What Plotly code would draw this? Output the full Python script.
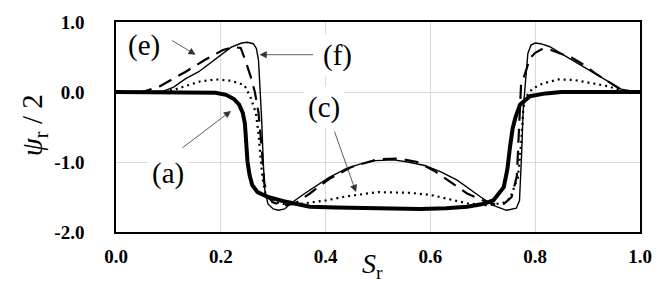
import plotly.graph_objects as go

# ---- data ----
xa = [0, 0.05, 0.10, 0.15, 0.19, 0.21, 0.225, 0.235, 0.242, 0.246, 0.249, 0.251, 0.255, 0.26, 0.27, 0.29, 0.32, 0.37, 0.42, 0.50, 0.58, 0.63, 0.67, 0.70, 0.72, 0.74, 0.747, 0.752, 0.757, 0.762, 0.771, 0.79, 0.82, 0.85, 0.90, 1.0]
ya = [0, 0, 0, 0, -0.01, -0.04, -0.10, -0.18, -0.30, -0.45, -0.75, -1.00, -1.19, -1.33, -1.43, -1.50, -1.56, -1.64, -1.65, -1.66, -1.67, -1.66, -1.64, -1.60, -1.55, -1.36, -1.10, -0.78, -0.52, -0.37, -0.18, -0.06, -0.02, 0, 0, 0]

xc = [0, 0.08, 0.11, 0.13, 0.16, 0.19, 0.22, 0.245, 0.257, 0.267, 0.272, 0.276, 0.28, 0.285, 0.295, 0.32, 0.35, 0.40, 0.44, 0.50, 0.56, 0.60, 0.63, 0.67, 0.71, 0.74, 0.752, 0.767, 0.773, 0.777, 0.78, 0.787, 0.795, 0.814, 0.845, 0.876, 0.908, 0.94, 0.964, 1.0]
yc = [0, 0, 0.03, 0.08, 0.15, 0.18, 0.16, 0.10, -0.08, -0.30, -0.60, -0.95, -1.25, -1.45, -1.56, -1.60, -1.60, -1.55, -1.49, -1.43, -1.44, -1.47, -1.52, -1.59, -1.62, -1.58, -1.52, -1.22, -0.75, -0.27, -0.09, -0.02, 0.05, 0.12, 0.18, 0.17, 0.12, 0.08, 0.02, 0]

xe = [0, 0.05, 0.083, 0.133, 0.17, 0.204, 0.225, 0.238, 0.247, 0.257, 0.265, 0.272, 0.278, 0.283, 0.29, 0.30, 0.32, 0.34, 0.37, 0.407, 0.45, 0.50, 0.54, 0.575, 0.606, 0.644, 0.67, 0.70, 0.72, 0.74, 0.755, 0.765, 0.773, 0.78, 0.79, 0.80, 0.815, 0.83, 0.85, 0.87, 0.89, 0.914, 0.935, 0.96, 0.98, 1.0]
ye = [0, 0, 0.08, 0.29, 0.46, 0.60, 0.64, 0.63, 0.45, 0.22, 0.0, -0.30, -0.80, -1.30, -1.50, -1.58, -1.62, -1.60, -1.45, -1.24, -1.07, -0.96, -0.95, -1.00, -1.12, -1.31, -1.45, -1.55, -1.60, -1.60, -1.50, -1.20, 0.10, 0.25, 0.48, 0.56, 0.62, 0.60, 0.55, 0.49, 0.40, 0.27, 0.17, 0.05, 0.01, 0]

xf = [0, 0.06, 0.09, 0.11, 0.133, 0.158, 0.182, 0.2, 0.22, 0.24, 0.251, 0.262, 0.268, 0.272, 0.275, 0.278, 0.281, 0.284, 0.29, 0.30, 0.31, 0.322, 0.332, 0.36, 0.407, 0.44, 0.47, 0.495, 0.53, 0.557, 0.589, 0.62, 0.651, 0.68, 0.696, 0.72, 0.745, 0.764, 0.770, 0.774, 0.777, 0.781, 0.786, 0.792, 0.80, 0.81, 0.827, 0.865, 0.908, 0.94, 0.964, 0.985, 1.0]
yf = [0, 0, 0.01, 0.07, 0.19, 0.29, 0.43, 0.53, 0.64, 0.70, 0.71, 0.69, 0.62, 0.45, 0.10, -0.40, -1.00, -1.40, -1.60, -1.67, -1.69, -1.67, -1.60, -1.45, -1.22, -1.09, -1.02, -0.98, -0.97, -1.00, -1.05, -1.14, -1.26, -1.42, -1.50, -1.62, -1.69, -1.66, -1.55, -0.90, -0.27, 0.10, 0.55, 0.67, 0.70, 0.69, 0.65, 0.48, 0.29, 0.15, 0.04, 0.01, 0]

xticks = [0, 0.2, 0.4, 0.6, 0.8, 1.0]
xticktext = ["0.0", "0.2", "0.4", "0.6", "0.8", "1.0"]
yticks = [1, 0, -1, -2]
yticktext = ["1.0", "0.0", "-1.0", "-2.0"]

# labels, their positions and arrow tips
labels = ["(e)", "(f)", "(c)", "(a)"]
label_x = [0.054, 0.422, 0.396, 0.099]
label_y = [0.66, 0.52, -0.22, -1.16]
tip_x = [0.152, 0.274, 0.458, 0.2195]
tip_y = [0.533, 0.533, -1.43, -0.27]
tail_ax = [-25, 55, -22, -50]
tail_ay = [-15, 0, -62, 38]

serif = "'Liberation Serif', Tinos, 'Times New Roman', 'DejaVu Serif', serif"

fig = go.Figure()
fig.add_trace(go.Scatter(x=xf, y=yf, mode="lines", line=dict(color="black", width=1.4), showlegend=False))
fig.add_trace(go.Scatter(x=xe, y=ye, mode="lines", line=dict(color="black", width=2.2, dash="14px,8px"), showlegend=False))
fig.add_trace(go.Scatter(x=xc, y=yc, mode="lines", line=dict(color="black", width=2.2, dash="2px,4px"), showlegend=False))
fig.add_trace(go.Scatter(x=xa, y=ya, mode="lines", line=dict(color="black", width=4), showlegend=False))

annotations = []
for tx, ty, ax, ay in zip(tip_x, tip_y, tail_ax, tail_ay):
    annotations.append(dict(x=tx, y=ty, xref="x", yref="y", text="", showarrow=True,
                            ax=ax, ay=ay, arrowhead=2, arrowsize=1.8, arrowwidth=0.8,
                            arrowcolor="#333"))
for t, lx, ly in zip(labels, label_x, label_y):
    annotations.append(dict(x=lx, y=ly, xref="x", yref="y", text=t, showarrow=False,
                            font=dict(family=serif, size=29, color="black"),
                            bgcolor="white", borderpad=4))

annotations.append(dict(x=-0.156, y=0.51, xref="paper", yref="paper",
                        text="<i>ψ</i><sub>r</sub> / 2", textangle=-90, showarrow=False,
                        font=dict(family=serif, size=29, color="black"),
                        xanchor="center", yanchor="middle"))
annotations.append(dict(x=0.49, y=-0.16, xref="paper", yref="paper",
                        text="<i>S</i><sub>r</sub>", showarrow=False,
                        font=dict(family=serif, size=28, color="black"),
                        xanchor="center", yanchor="middle"))

fig.update_layout(
    width=664, height=298,
    margin=dict(l=116, r=15, t=20, b=66),
    paper_bgcolor="white", plot_bgcolor="white",
    annotations=annotations,
    xaxis=dict(range=[0, 1], tickvals=xticks, ticktext=xticktext,
               showgrid=True, gridcolor="#d9d9d9", gridwidth=1,
               showline=True, linecolor="black", linewidth=1.5, mirror=True,
               zeroline=False, ticks="", ticklabelstandoff=6,
               tickfont=dict(family=serif, size=19, color="black", weight="bold")),
    yaxis=dict(range=[-2, 1], tickvals=yticks, ticktext=yticktext,
               showgrid=True, gridcolor="#d9d9d9", gridwidth=1,
               showline=True, linecolor="black", linewidth=1.5, mirror=True,
               zeroline=False, ticks="", ticklabelstandoff=26,
               tickfont=dict(family=serif, size=19, color="black", weight="bold")),
)

fig.write_html("out.html", config={"displayModeBar": False},
               post_script="document.body.style.margin='0px';")
